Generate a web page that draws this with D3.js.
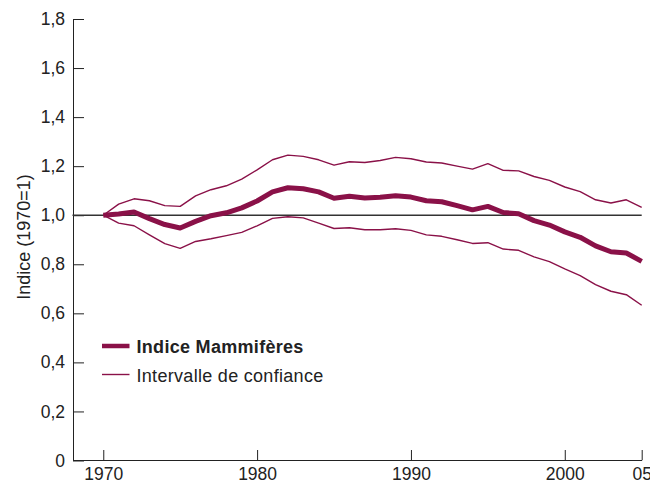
<!DOCTYPE html>
<html><head>
<meta charset="utf-8">
<script src="https://d3js.org/d3.v7.min.js"></script>
<style>
  body { margin: 0; background: #fff; }
  svg text { font-family: "Liberation Sans", Arial, Helvetica, sans-serif; fill: #222; }
</style>
</head>
<body>
<svg id="plot" width="650" height="483"></svg>
<script>
  // data
  const years = d3.range(1970, 2006);
  const indice = [1.000, 1.005, 1.013, 0.986, 0.962, 0.948, 0.975, 0.998, 1.010, 1.030,
                  1.058, 1.095, 1.112, 1.108, 1.095, 1.069, 1.077, 1.070, 1.073, 1.079,
                  1.074, 1.059, 1.055, 1.039, 1.022, 1.036, 1.011, 1.006, 0.978, 0.960,
                  0.932, 0.910, 0.875, 0.851, 0.846, 0.812];
  const upper = [1.000, 1.045, 1.067, 1.059, 1.039, 1.036, 1.079, 1.104, 1.120, 1.147,
                 1.185, 1.226, 1.245, 1.240, 1.226, 1.204, 1.218, 1.215, 1.223, 1.236,
                 1.230, 1.217, 1.213, 1.200, 1.188, 1.210, 1.183, 1.181, 1.158, 1.142,
                 1.115, 1.096, 1.063, 1.050, 1.063, 1.032];
  const lower = [1.000, 0.968, 0.957, 0.920, 0.884, 0.865, 0.893, 0.904, 0.917, 0.930,
                 0.957, 0.987, 0.994, 0.989, 0.968, 0.946, 0.949, 0.941, 0.941, 0.945,
                 0.938, 0.920, 0.914, 0.900, 0.885, 0.888, 0.862, 0.857, 0.830, 0.811,
                 0.781, 0.754, 0.717, 0.690, 0.676, 0.633];
  const xTicks = [1970, 1980, 1990, 2000, 2005];
  const yTicks = [0, 0.2, 0.4, 0.6, 0.8, 1.0, 1.2, 1.4, 1.6, 1.8];
  const legendLabels = ["Indice Mammifères", "Intervalle de confiance"];

  const color = "#8a1148";
  const svg = d3.select("svg#plot");

  const x = d3.scaleLinear().domain([1968, 2005]).range([72.5, 641.7]);
  const y = d3.scaleLinear().domain([0, 1.8]).range([460.5, 19]);

  // axes
  const yAxis = d3.axisLeft(y)
    .tickValues(yTicks)
    .tickFormat(d => d === 0 ? "0" : d3.format(".1f")(d).replace(".", ","))
    .tickSizeInner(-11).tickSizeOuter(0).tickPadding(8);
  const xAxis = d3.axisBottom(x)
    .tickValues(xTicks)
    .tickFormat(d => d === 2005 ? "05" : String(d))
    .tickSizeInner(-10).tickSizeOuter(0).tickPadding(8);

  const gy = svg.append("g").attr("transform", "translate(73,0)").call(yAxis);
  const gx = svg.append("g").attr("transform", "translate(0,460)").call(xAxis);
  [gx, gy].forEach(g => {
    g.selectAll("path, line").attr("stroke", "#222");
    g.selectAll("text").attr("font-size", 17.5).attr("fill", "#222")
      .style("font-family", "'Liberation Sans', Arial, sans-serif");
  });

  // reference line at 1.0
  svg.append("line")
    .attr("x1", x(1968)).attr("x2", x(2005))
    .attr("y1", y(1)).attr("y2", y(1))
    .attr("stroke", "#333").attr("stroke-width", 1.5);

  const line = d3.line().x((d, i) => x(years[i])).y(d => y(d));

  svg.append("path").datum(upper).attr("d", line)
    .attr("fill", "none").attr("stroke", color).attr("stroke-width", 1.4)
    .attr("stroke-linejoin", "round");
  svg.append("path").datum(lower).attr("d", line)
    .attr("fill", "none").attr("stroke", color).attr("stroke-width", 1.4)
    .attr("stroke-linejoin", "round");
  svg.append("path").datum(indice).attr("d", line)
    .attr("fill", "none").attr("stroke", color).attr("stroke-width", 5)
    .attr("stroke-linejoin", "round");

  // y axis title
  svg.append("text")
    .attr("transform", "translate(24,237) rotate(-90)")
    .attr("text-anchor", "middle").attr("dy", "0.35em")
    .attr("font-size", 18)
    .text("Indice (1970=1)");

  // legend
  const legend = svg.append("g").attr("transform", "translate(102,346)");
  legendLabels.forEach((lab, i) => {
    const g = legend.append("g").attr("transform", "translate(0," + (i * 28.5) + ")");
    g.append("line").attr("x1", 0).attr("x2", 27.5).attr("y1", 0).attr("y2", 0)
      .attr("stroke", color).attr("stroke-width", i === 0 ? 4.5 : 1.4);
    g.append("text").attr("x", 34.5).attr("y", 7)
      .attr("font-size", 18)
      .attr("letter-spacing", 0.3)
      .attr("font-weight", i === 0 ? "bold" : "normal")
      .text(lab);
  });
</script>
</body>
</html>
